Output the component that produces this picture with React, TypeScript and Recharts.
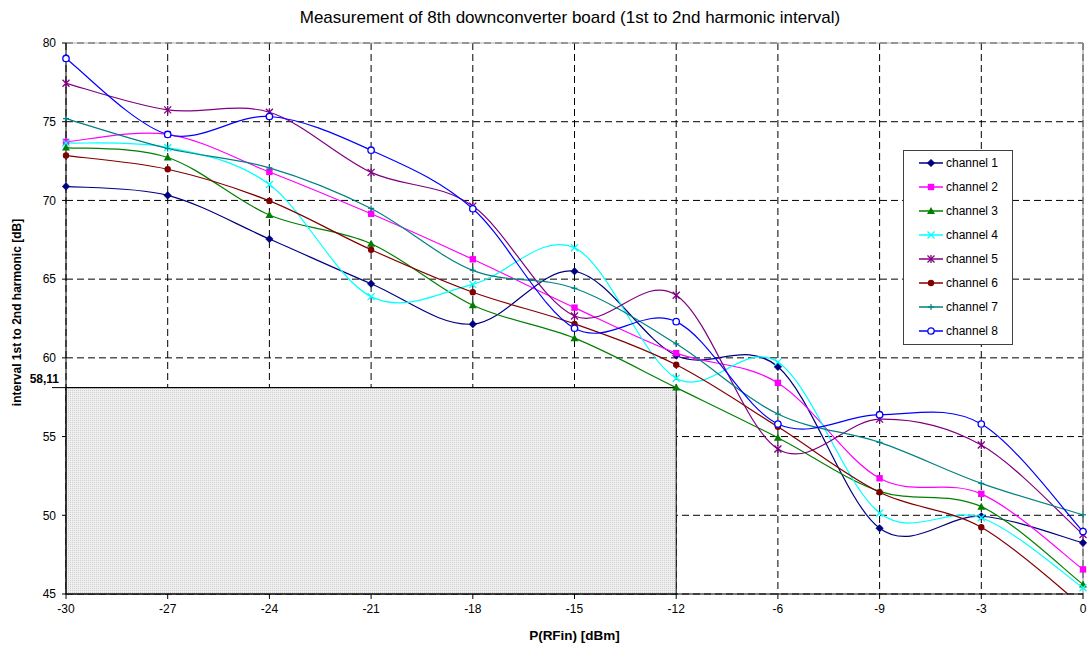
import React from "react";
import {
  LineChart,
  Line,
  XAxis,
  YAxis,
  CartesianGrid,
  ReferenceArea,
  ReferenceLine,
} from "recharts";

const categories = ["-30", "-27", "-24", "-21", "-18", "-15", "-12", "-6", "-9", "-3", "0"];
const channel1 = [70.89, 70.32, 67.55, 64.71, 62.14, 65.5, 60.15, 59.43, 49.18, 49.94, 48.25];
const channel2 = [73.72, 74.2, 71.81, 69.15, 66.26, 63.19, 60.3, 58.41, 52.35, 51.36, 46.56];
const channel3 = [73.36, 72.73, 69.07, 67.25, 63.34, 61.25, 58.11, 54.93, 51.52, 50.55, 45.61];
const channel4 = [73.65, 73.36, 71.01, 63.89, 64.67, 66.99, 58.71, 59.73, 50.15, 49.84, 45.4];
const channel5 = [77.44, 75.75, 75.6, 71.78, 69.64, 62.66, 63.98, 54.21, 56.11, 54.46, 48.78];
const channel6 = [72.85, 71.98, 69.97, 66.87, 64.17, 62.16, 59.56, 55.62, 51.46, 49.24, 44.2];
const channel7 = [75.2, 73.3, 72.07, 69.49, 65.56, 64.42, 60.89, 56.43, 54.63, 52.03, 50.03];
const channel8 = [79.02, 74.19, 75.33, 73.19, 69.47, 61.88, 62.3, 55.8, 56.39, 55.8, 48.97];
const yTicks = [45, 50, 55, 60, 65, 70, 75, 80];
const thresholdValue = 58.11;
const thresholdLabel = "58,11";
const thresholdFrom = "-30";
const thresholdTo = "-12";

const seriesDefs = [
  { key: "channel 1", values: channel1, color: "#000080", shape: "diamond" },
  { key: "channel 2", values: channel2, color: "#FF00FF", shape: "square" },
  { key: "channel 3", values: channel3, color: "#008000", shape: "triangle" },
  { key: "channel 4", values: channel4, color: "#00FFFF", shape: "x" },
  { key: "channel 5", values: channel5, color: "#800080", shape: "star" },
  { key: "channel 6", values: channel6, color: "#800000", shape: "circle" },
  { key: "channel 7", values: channel7, color: "#008080", shape: "plus" },
  { key: "channel 8", values: channel8, color: "#0000FF", shape: "ocircle" },
];

const data = categories.map((c, i) => {
  const row: any = { cat: c };
  seriesDefs.forEach((s) => {
    row[s.key] = s.values[i];
  });
  return row;
});

// Excel-like smoothed line (Catmull-Rom as cubic Bezier)
const excelCurve: any = (context: any) => {
  let pts: number[][] = [];
  return {
    areaStart() {},
    areaEnd() {},
    lineStart() {
      pts = [];
    },
    point(x: number, y: number) {
      pts.push([+x, +y]);
    },
    lineEnd() {
      const n = pts.length;
      if (n === 0) return;
      context.moveTo(pts[0][0], pts[0][1]);
      for (let i = 0; i < n - 1; i++) {
        const p0 = pts[Math.max(i - 1, 0)];
        const p1 = pts[i];
        const p2 = pts[i + 1];
        const p3 = pts[Math.min(i + 2, n - 1)];
        context.bezierCurveTo(
          p1[0] + (p2[0] - p0[0]) / 6,
          p1[1] + (p2[1] - p0[1]) / 6,
          p2[0] - (p3[0] - p1[0]) / 6,
          p2[1] - (p3[1] - p1[1]) / 6,
          p2[0],
          p2[1]
        );
      }
    },
  };
};

function Marker({ shape, cx, cy, color }: any) {
  switch (shape) {
    case "diamond":
      return (
        <polygon
          points={`${cx},${cy - 3.8} ${cx + 3.8},${cy} ${cx},${cy + 3.8} ${cx - 3.8},${cy}`}
          fill={color}
          stroke={color}
          strokeWidth={0.5}
        />
      );
    case "square":
      return <rect x={cx - 3.2} y={cy - 3.2} width={6.4} height={6.4} fill={color} />;
    case "triangle":
      return (
        <polygon
          points={`${cx},${cy - 4} ${cx + 4},${cy + 3} ${cx - 4},${cy + 3}`}
          fill={color}
        />
      );
    case "x":
      return (
        <g stroke={color} strokeWidth={1.3}>
          <line x1={cx - 3.5} y1={cy - 3.5} x2={cx + 3.5} y2={cy + 3.5} />
          <line x1={cx - 3.5} y1={cy + 3.5} x2={cx + 3.5} y2={cy - 3.5} />
        </g>
      );
    case "star":
      return (
        <g stroke={color} strokeWidth={1.3}>
          <line x1={cx - 3.5} y1={cy - 3.5} x2={cx + 3.5} y2={cy + 3.5} />
          <line x1={cx - 3.5} y1={cy + 3.5} x2={cx + 3.5} y2={cy - 3.5} />
          <line x1={cx} y1={cy - 4} x2={cx} y2={cy + 4} />
        </g>
      );
    case "circle":
      return <circle cx={cx} cy={cy} r={3.2} fill={color} />;
    case "plus":
      return (
        <g stroke={color} strokeWidth={1.2}>
          <line x1={cx - 3} y1={cy} x2={cx + 3} y2={cy} />
          <line x1={cx} y1={cy - 3} x2={cx} y2={cy + 3} />
        </g>
      );
    case "ocircle":
    default:
      return <circle cx={cx} cy={cy} r={3.2} fill="#fff" stroke={color} strokeWidth={1.3} />;
  }
}

function makeDot(shape: string, color: string, name: string) {
  return (props: any) => {
    const { cx, cy, index } = props;
    const k = `dot-${name}-${index}`;
    if (cx == null || cy == null || isNaN(cx) || isNaN(cy)) return <g key={k} />;
    return (
      <g key={k}>
        <Marker shape={shape} cx={cx} cy={cy} color={color} />
      </g>
    );
  };
}

const FONT = '"Liberation Sans", Arial, sans-serif';

export default function App() {
  return (
    <div
      style={{
        position: "absolute",
        left: 0,
        top: 0,
        width: 1087,
        height: 646,
        background: "#fff",
        fontFamily: FONT,
        overflow: "hidden",
      }}
    >
      <div
        style={{
          position: "absolute",
          left: 53,
          width: 1034,
          top: 7,
          textAlign: "center",
          fontSize: 17,
          lineHeight: "22px",
          color: "#000",
        }}
      >
        Measurement of 8th downconverter board (1st to 2nd harmonic interval)
      </div>
      <LineChart
        width={1087}
        height={646}
        data={data}
        margin={{ top: 43, right: 4, left: 0, bottom: 8 }}
        style={{ fontFamily: FONT }}
      >
        <defs>
          <pattern id="dots" width="2" height="2" patternUnits="userSpaceOnUse">
            <rect x="0" y="0" width="2" height="2" fill="#efefef" />
            <rect x="0" y="0" width="1" height="1" fill="#cfcfcf" />
          </pattern>
        </defs>
        <CartesianGrid stroke="#000" strokeDasharray="7 4" strokeWidth={1} />
        <XAxis
          dataKey="cat"
          interval={0}
          height={44}
          tickSize={5}
          tickMargin={5}
          axisLine={{ stroke: "#000" }}
          tickLine={{ stroke: "#000" }}
          tick={{ fill: "#000", fontSize: 12 }}
          label={{
            content: (p: any) => {
              const vb = p.viewBox || {};
              return (
                <text
                  x={vb.x + vb.width / 2}
                  y={vb.y + 46}
                  textAnchor="middle"
                  fontSize={13.5}
                  fontWeight="bold"
                  fill="#000"
                >
                  P(RFin) [dBm]
                </text>
              );
            },
          }}
        />
        <YAxis
          type="number"
          domain={[45, 80]}
          ticks={yTicks}
          allowDataOverflow
          width={66}
          tickSize={4}
          tickMargin={6}
          axisLine={{ stroke: "#000" }}
          tickLine={{ stroke: "#000" }}
          tick={{ fill: "#000", fontSize: 12 }}
          label={{
            content: (p: any) => {
              const vb = p.viewBox || {};
              const x = vb.x + 21;
              const y = vb.y + vb.height / 2 - 6;
              return (
                <text
                  x={x}
                  y={y}
                  transform={`rotate(-90 ${x} ${y})`}
                  textAnchor="middle"
                  fontSize={12}
                  fontWeight="bold"
                  fill="#000"
                >
                  interval 1st to 2nd harmonic [dB]
                </text>
              );
            },
          }}
        />
        <ReferenceLine x="0" stroke="#909090" strokeWidth={1} />
        <ReferenceLine y={80} stroke="#b0b0b0" strokeWidth={1} />
        <ReferenceArea
          x1={thresholdFrom}
          x2={thresholdTo}
          y1={45}
          y2={thresholdValue}
          fill="url(#dots)"
          fillOpacity={1}
          stroke="#000"
          strokeWidth={1}
          label={{
            content: (p: any) => {
              const vb = p.viewBox || {};
              return (
                <g>
                  <line
                    x1={vb.x - 14}
                    y1={vb.y}
                    x2={vb.x + vb.width}
                    y2={vb.y}
                    stroke="#000"
                    strokeWidth={1}
                  />
                  <text
                    x={vb.x - 7}
                    y={vb.y - 5}
                    textAnchor="end"
                    fontSize={12}
                    fontWeight="bold"
                    fill="#000"
                  >
                    {thresholdLabel}
                  </text>
                </g>
              );
            },
          }}
        />
        {seriesDefs.map((s) => (
          <Line
            key={s.key}
            dataKey={s.key}
            name={s.key}
            type={excelCurve}
            stroke={s.color}
            strokeWidth={1.2}
            dot={makeDot(s.shape, s.color, s.key)}
            activeDot={false}
            isAnimationActive={false}
          />
        ))}
      </LineChart>
      <div
        style={{
          position: "absolute",
          left: 903,
          top: 150,
          width: 108,
          height: 193,
          border: "1px solid #404040",
          background: "#fff",
        }}
      >
        {seriesDefs.map((s) => (
          <div
            key={s.key}
            style={{
              height: 24,
              display: "flex",
              alignItems: "center",
              paddingLeft: 14,
              fontSize: 12,
              color: "#000",
            }}
          >
            <svg width={26} height={10} style={{ display: "block" }}>
              <line x1={1} y1={5} x2={25} y2={5} stroke={s.color} strokeWidth={1.5} />
              <Marker shape={s.shape} cx={13} cy={5} color={s.color} />
            </svg>
            <span style={{ marginLeft: 2 }}>{s.key}</span>
          </div>
        ))}
      </div>
    </div>
  );
}
